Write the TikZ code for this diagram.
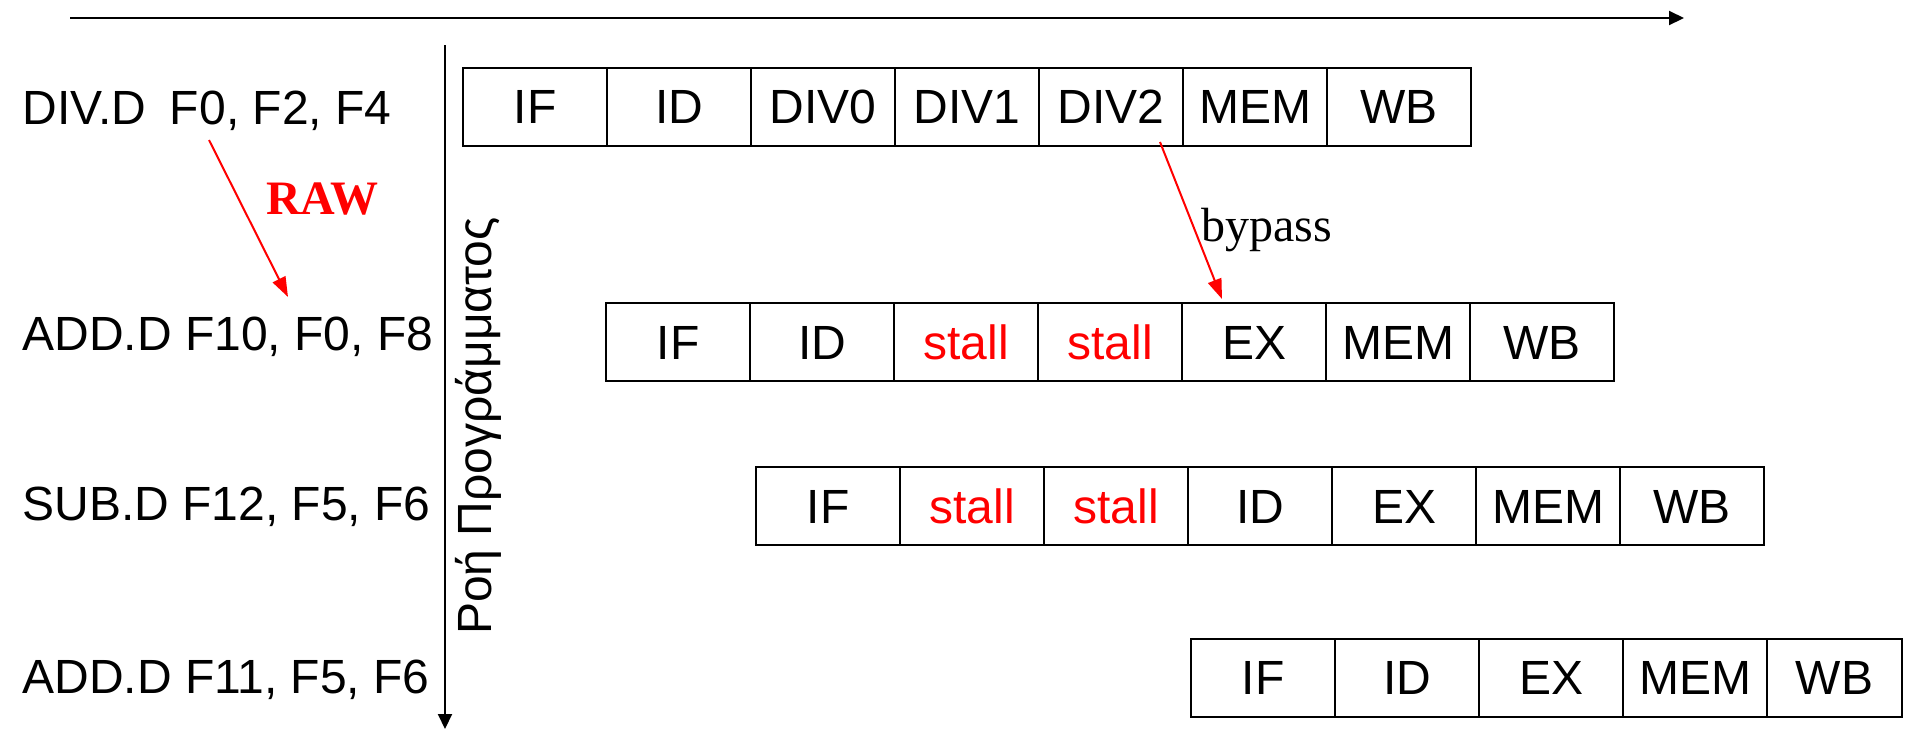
\documentclass[tikz,border=0pt]{standalone}
\usepackage{fontspec}
\setmainfont{Liberation Sans}
\newfontfamily\serifface{Liberation Serif}
\usetikzlibrary{arrows.meta}
\begin{document}
\begin{tikzpicture}[x=0.5pt,y=-0.5pt,
  every node/.style={font=\fontsize{24}{28}\selectfont},
  cell/.style={draw, line width=1pt, minimum width=72pt, minimum height=39pt,
    inner sep=0pt, outer sep=0pt, text height=17.2pt, text depth=0pt},
  stallcell/.style={cell, text=red},
  instr/.style={anchor=base west, inner sep=0pt},
  axis/.style={line width=1pt, -{Triangle[length=7.5pt,width=7pt]}},
  dep/.style={red, line width=1pt, -{Triangle[length=10pt,width=7pt]}}]
\useasboundingbox (0,0) rectangle (1905,730);

% axes
\coordinate (tS) at (70,18);
\coordinate (tE) at (1684,18);
\draw[axis] (tS) -- (tE);
\coordinate (vS) at (445,45);
\coordinate (vE) at (445,729);
\draw[axis] (vS) -- (vE);
\node[rotate=90, inner sep=0pt, text height=17.2pt, text depth=0pt] (flow) at (474,426) {Ροή Προγράμματος};

% instruction labels
\node[instr] (i1) at (22,124) {DIV.D\hspace{0.5em}F0, F2, F4};
\node[instr] (i2) at (22,350) {ADD.D F10, F0, F8};
\node[instr] (i3) at (22,520) {SUB.D F12, F5, F6};
\node[instr] (i4) at (22,693) {ADD.D F11, F5, F6};

% row 1
\foreach \t/\n [count=\k from 0] in {IF/a1,ID/a2,DIV0/a3,DIV1/a4,DIV2/a5,MEM/a6,WB/a7}
  \node[cell] (\n) at ({463+72+144*\k},106.5) {\t};
% row 2
\node[cell] (b1) at ({606+72},342) {IF};
\node[cell] (b2) at ({606+72+144},342) {ID};
\node[stallcell] (b3) at ({606+72+144*2},342) {stall};
\node[stallcell] (b4) at ({606+72+144*3},342) {stall};
\node[cell] (b5) at ({606+72+144*4},342) {EX};
\node[cell] (b6) at ({606+72+144*5},342) {MEM};
\node[cell] (b7) at ({606+72+144*6},342) {WB};
% row 3
\node[cell] (c1) at ({756+72},506) {IF};
\node[stallcell] (c2) at ({756+72+144},506) {stall};
\node[stallcell] (c3) at ({756+72+144*2},506) {stall};
\node[cell] (c4) at ({756+72+144*3},506) {ID};
\node[cell] (c5) at ({756+72+144*4},506) {EX};
\node[cell] (c6) at ({756+72+144*5},506) {MEM};
\node[cell] (c7) at ({756+72+144*6},506) {WB};
% row 4
\foreach \t/\n [count=\k from 0] in {IF/d1,ID/d2,EX/d3,MEM/d4}
  \node[cell] (\n) at ({1191+72+144*\k},677.5) {\t};
\node[cell, minimum width=67.5pt] (d5) at ({1191+144*4+67.5},677.5) {WB};

% dependencies
\coordinate (rawS) at (209,140);
\coordinate (rawE) at (288,297);
\draw[dep] (rawS) -- (rawE);
\node[text=red, font=\serifface\bfseries\fontsize{24}{28}\selectfont, inner sep=0pt,
  text height=15.9pt, text depth=0pt] (raw) at (322,199) {RAW};

\coordinate (byS) at (1160,142);
\coordinate (byE) at (1222,299);
\draw[dep] (byS) -- (byE);
\node[font=\serifface\fontsize{24}{28}\selectfont, anchor=base west, inner sep=0pt] (by) at (1201,241) {bypass};
\end{tikzpicture}
\end{document}
